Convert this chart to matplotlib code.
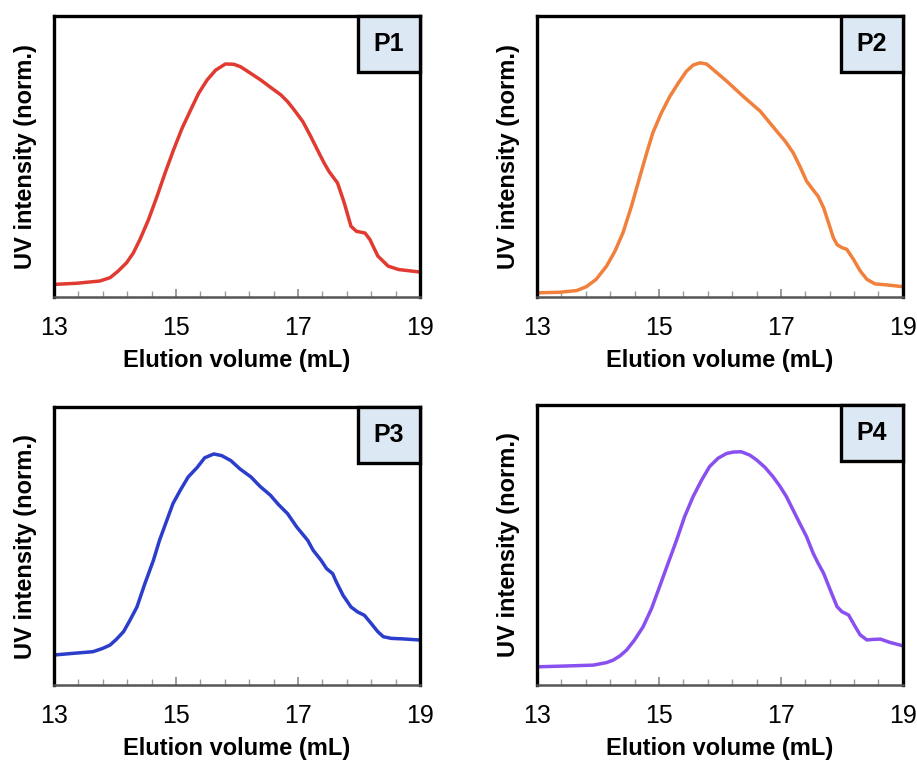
import numpy as np
import matplotlib
matplotlib.use("Agg")
import matplotlib.pyplot as plt
from matplotlib.patches import Rectangle

plt.rcParams['font.family'] = ['Liberation Sans', 'DejaVu Sans']

# elution traces (volume in mL, normalised UV signal)
p1_x = [13.0, 13.37, 13.75, 13.92, 14.05, 14.19, 14.30, 14.41, 14.55, 14.69, 14.82, 14.96,
        15.10, 15.24, 15.37, 15.51, 15.65, 15.81, 15.95, 16.06, 16.23, 16.39, 16.55, 16.72,
        16.83, 16.94, 17.08, 17.21, 17.32, 17.43, 17.51, 17.65, 17.76, 17.87, 17.96, 18.10,
        18.18, 18.31, 18.48, 18.65, 19.0]
p1_y = [0.045, 0.049, 0.057, 0.069, 0.092, 0.122, 0.157, 0.205, 0.276, 0.359, 0.441, 0.524,
        0.601, 0.666, 0.725, 0.773, 0.808, 0.830, 0.829, 0.820, 0.796, 0.773, 0.747, 0.720,
        0.696, 0.666, 0.625, 0.572, 0.524, 0.477, 0.447, 0.406, 0.335, 0.252, 0.234, 0.228,
        0.205, 0.146, 0.110, 0.098, 0.089]

p2_x = [13.0, 13.37, 13.65, 13.81, 13.97, 14.14, 14.28, 14.41, 14.55, 14.69, 14.80, 14.90,
        15.04, 15.18, 15.32, 15.45, 15.56, 15.67, 15.78, 15.89, 16.11, 16.38, 16.66, 16.93,
        17.07, 17.20, 17.31, 17.42, 17.53, 17.61, 17.70, 17.78, 17.86, 17.92, 18.00, 18.08,
        18.19, 18.30, 18.41, 18.54, 18.74, 19.0]
p2_y = [0.015, 0.017, 0.023, 0.037, 0.063, 0.110, 0.164, 0.229, 0.324, 0.431, 0.514, 0.585,
        0.656, 0.715, 0.763, 0.804, 0.826, 0.834, 0.830, 0.810, 0.769, 0.715, 0.662, 0.591,
        0.555, 0.514, 0.466, 0.413, 0.381, 0.359, 0.318, 0.265, 0.211, 0.187, 0.176, 0.170,
        0.134, 0.093, 0.063, 0.047, 0.043, 0.037]

p3_x = [13.0, 13.31, 13.64, 13.80, 13.92, 14.02, 14.14, 14.24, 14.36, 14.49, 14.63, 14.73,
        14.85, 14.95, 15.07, 15.20, 15.35, 15.47, 15.62, 15.75, 15.90, 16.05, 16.23, 16.38,
        16.55, 16.68, 16.83, 16.98, 17.16, 17.25, 17.38, 17.47, 17.57, 17.63, 17.74, 17.87,
        17.98, 18.09, 18.20, 18.31, 18.40, 18.53, 18.73, 19.0]
p3_y = [0.108, 0.114, 0.120, 0.132, 0.144, 0.164, 0.192, 0.231, 0.281, 0.365, 0.449, 0.521,
        0.593, 0.653, 0.701, 0.749, 0.784, 0.818, 0.832, 0.826, 0.808, 0.778, 0.749, 0.715,
        0.683, 0.650, 0.617, 0.569, 0.521, 0.485, 0.449, 0.419, 0.401, 0.371, 0.323, 0.281,
        0.263, 0.251, 0.222, 0.192, 0.174, 0.168, 0.166, 0.162]

p4_x = [13.0, 13.48, 13.92, 14.14, 14.25, 14.36, 14.47, 14.60, 14.74, 14.88, 15.01, 15.15,
        15.29, 15.42, 15.56, 15.70, 15.83, 15.97, 16.11, 16.22, 16.35, 16.49, 16.60, 16.74,
        16.87, 16.98, 17.09, 17.20, 17.31, 17.42, 17.53, 17.61, 17.70, 17.81, 17.92, 18.00,
        18.11, 18.22, 18.30, 18.41, 18.52, 18.63, 18.79, 19.0]
p4_y = [0.065, 0.068, 0.071, 0.080, 0.089, 0.104, 0.125, 0.161, 0.208, 0.274, 0.351, 0.435,
        0.518, 0.601, 0.673, 0.732, 0.780, 0.810, 0.827, 0.832, 0.833, 0.821, 0.804, 0.777,
        0.744, 0.711, 0.673, 0.625, 0.577, 0.530, 0.470, 0.435, 0.399, 0.339, 0.280, 0.262,
        0.250, 0.208, 0.179, 0.161, 0.163, 0.164, 0.152, 0.140]

names = ["P1", "P2", "P3", "P4"]
colors = ["#e03a31", "#f0803c", "#2b3dcb", "#8a50ef"]
traces = [(p1_x, p1_y), (p2_x, p2_y), (p3_x, p3_y), (p4_x, p4_y)]

fig = plt.figure(figsize=(9.17, 7.63), dpi=100)

# axes boxes in figure fractions
boxes = [
    [0.0589, 0.6107, 0.399, 0.368],
    [0.5856, 0.6107, 0.399, 0.368],
    [0.0589, 0.1022, 0.399, 0.364],
    [0.5856, 0.1022, 0.399, 0.367],
]

for i in range(4):
    ax = fig.add_axes(boxes[i])
    x, y = traces[i]
    ax.plot(x, y, color=colors[i], lw=2.5, solid_joinstyle='round', solid_capstyle='butt')
    ax.set_xlim(13, 19)
    ax.set_ylim(0, 1)
    ax.set_yticks([])
    ax.set_xticks([13, 15, 17, 19])
    ax.set_xticks(np.linspace(13, 19, 16), minor=True)
    ax.tick_params(axis='x', which='major', direction='in', length=6, width=1.2,
                   color='#8a8a8a', labelsize=18, pad=14)
    ax.tick_params(axis='x', which='minor', direction='in', length=4, width=1.0,
                   color='#9a9a9a')
    for side in ['left', 'right', 'top']:
        ax.spines[side].set_linewidth(2.4)
        ax.spines[side].set_color('black')
    ax.spines['bottom'].set_linewidth(1.8)
    ax.spines['bottom'].set_color('#555555')

    ax.set_xlabel("Elution volume (mL)", fontsize=17, fontweight='bold', labelpad=6)
    ax.set_ylabel("UV intensity (norm.)", fontsize=17, fontweight='bold', labelpad=12)

    # sample tag in the top-right corner
    ax.add_patch(Rectangle((0.83, 0.80), 0.17, 0.20, transform=ax.transAxes,
                           facecolor='#dce9f5', edgecolor='black', lw=2.4, clip_on=False, zorder=5))
    ax.text(0.915, 0.90, names[i], transform=ax.transAxes, ha='center', va='center',
            fontsize=18, fontweight='bold', zorder=6)

fig.savefig("out.png", dpi=100)
